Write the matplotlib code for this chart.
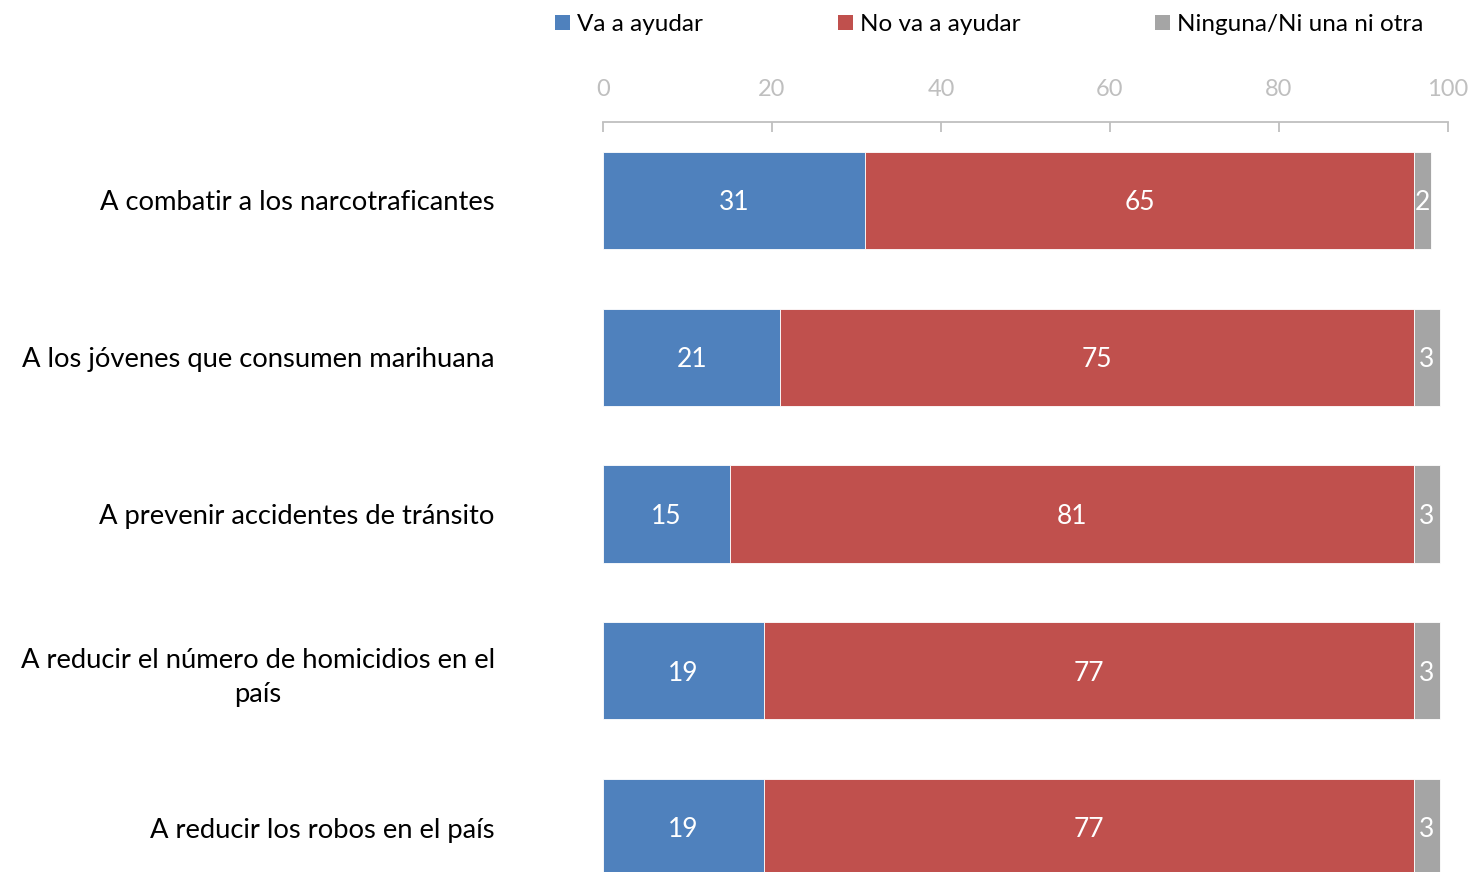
import matplotlib.pyplot as plt
from matplotlib.patches import Patch

plt.rcParams['font.family'] = ['Lato', 'DejaVu Sans']

# datos
categorias = ['A combatir a los narcotraficantes',
              'A los jóvenes que consumen marihuana',
              'A prevenir accidentes de tránsito',
              'A reducir el número de homicidios en el\npaís',
              'A reducir los robos en el país']
va_ayudar = [31, 21, 15, 19, 19]
no_ayudar = [65, 75, 81, 77, 77]
ninguna = [2, 3, 3, 3, 3]
series_nombres = ['Va a ayudar', 'No va a ayudar', 'Ninguna/Ni una ni otra']
colores = ['#4F81BD', '#C0504D', '#A5A5A5']
xticks = [0, 20, 40, 60, 80, 100]

fig = plt.figure(figsize=(14.7, 8.72), dpi=100)
ax = fig.add_axes([0.4102, -0.039, 0.5748, 0.899])

y = list(range(len(categorias)))
izq = [0] * len(categorias)
for vals, col in zip([va_ayudar, no_ayudar, ninguna], colores):
    bars = ax.barh(y, vals, left=izq, height=0.62, color=col,
                   edgecolor='white', linewidth=0.6)
    for b, v in zip(bars, vals):
        ax.text(b.get_x() + b.get_width() / 2, b.get_y() + b.get_height() / 2 + 0.015,
                str(v), ha='center', va='center', color='white', fontsize=19)
    izq = [a + b for a, b in zip(izq, vals)]

ax.set_xlim(0, 100)
ax.set_ylim(4.5, -0.5)
ax.set_yticks(y)
ax.set_yticklabels(categorias, fontsize=19.7)
for lbl in ax.get_yticklabels():
    lbl.set_multialignment('center')
    lbl.set_linespacing(1.45)
ax.tick_params(axis='y', length=0, pad=78)

ax.xaxis.tick_top()
ax.set_xticks(xticks)
ax.set_xticklabels([str(t) for t in xticks])
ax.tick_params(axis='x', colors='#BFBFBF', labelcolor='#BFBFBF',
               labelsize=17, length=7, direction='in', pad=16, width=1.3)

for s in ['left', 'right', 'bottom']:
    ax.spines[s].set_visible(False)
ax.spines['top'].set_color('#BFBFBF')
ax.spines['top'].set_linewidth(1.3)

handles = [Patch(facecolor=c, edgecolor='none') for c in colores]
fig.legend(handles, series_nombres, loc='upper left', bbox_to_anchor=(0.363, 1.009),
           ncol=3, frameon=False, fontsize=17.5, handlelength=0.6, handleheight=0.6,
           handletextpad=0.3, columnspacing=5.55)

fig.savefig('out.png', dpi=100)
